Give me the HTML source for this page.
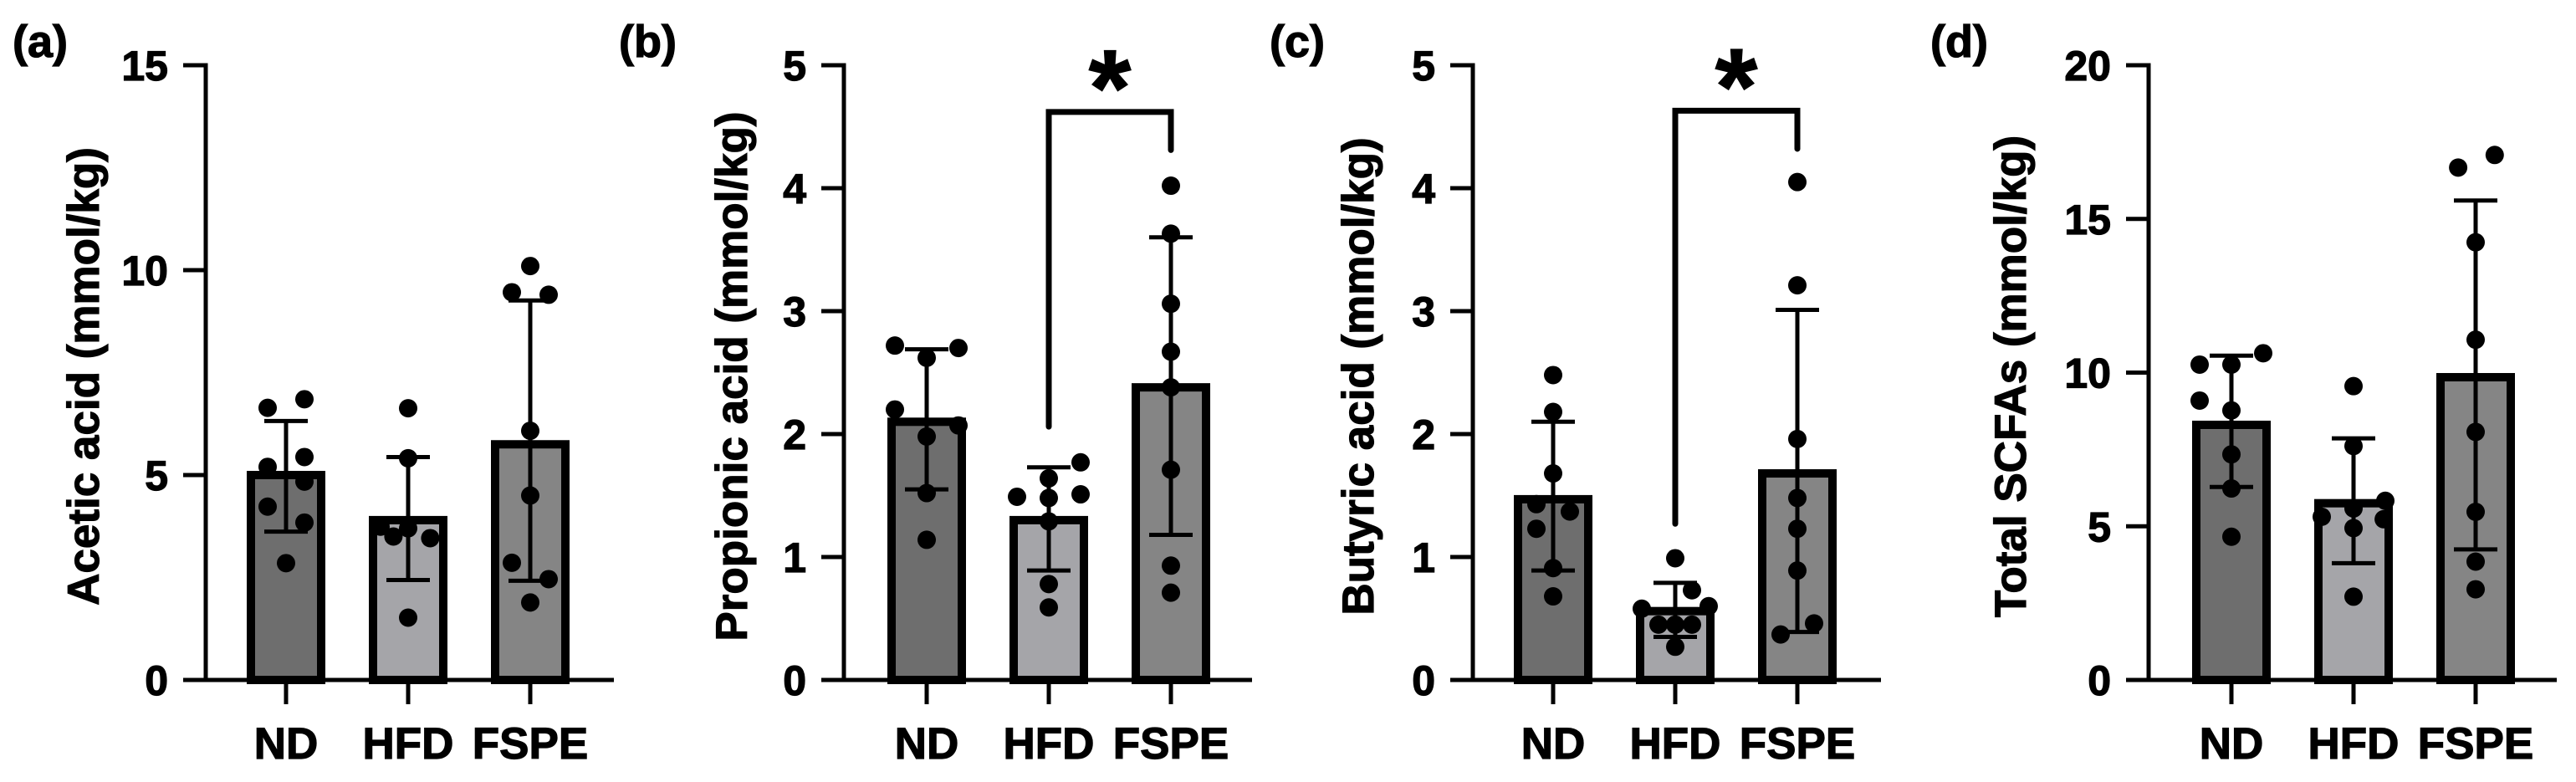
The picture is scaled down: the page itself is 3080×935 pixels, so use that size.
<!DOCTYPE html>
<html><head><meta charset="utf-8"><style>
html,body{margin:0;padding:0;background:#fff;}
svg{display:block;font-family:"Liberation Sans",Arial,sans-serif;font-weight:bold;}
svg text{stroke:#000;stroke-width:1.2px;}
</style></head><body>
<svg id="fig" width="3080" height="935" viewBox="0 0 3080 935" xmlns="http://www.w3.org/2000/svg"></svg>
<script>
const categories = ["ND","HFD","FSPE"];
// Panel (a) Acetic acid
const aMeans = [5.0, 3.9, 5.75];
const aHi = [6.32, 5.44, 9.26];
const aLo = [3.62, 2.44, 2.42];
const aND = [6.64, 6.85, 5.2, 5.44, 4.84, 4.23, 3.84, 2.85];
const aHFD = [6.63, 5.41, 3.74, 3.7, 3.5, 3.46, 1.52];
const aFSPE = [10.1, 9.46, 9.4, 6.08, 4.5, 2.86, 2.46, 1.89];
const aTicks = [0, 5, 10, 15];
// Panel (b) Propionic acid
const bMeans = [2.1, 1.3, 2.38];
const bHi = [2.69, 1.73, 3.6];
const bLo = [1.55, 0.89, 1.18];
const bND = [2.72, 2.70, 2.62, 2.2, 2.07, 1.98, 1.52, 1.14];
const bHFD = [1.77, 1.64, 1.49, 1.48, 1.51, 1.29, 0.78, 0.59];
const bFSPE = [4.02, 3.63, 3.06, 2.67, 2.38, 1.71, 0.93, 0.71];
const bTicks = [0, 1, 2, 3, 4, 5];
const bBracket = [4.62, 2.06, 4.31];
// Panel (c) Butyric acid
const cMeans = [1.47, 0.56, 1.68];
const cHi = [2.1, 0.79, 3.01];
const cLo = [0.89, 0.35, 0.39];
const cND = [2.48, 2.18, 1.68, 1.43, 1.37, 1.23, 0.91, 0.68];
const cHFD = [0.99, 0.73, 0.58, 0.6, 0.45, 0.45, 0.45, 0.27];
const cFSPE = [4.05, 3.21, 1.96, 1.48, 1.23, 0.89, 0.37, 0.46];
const cTicks = [0, 1, 2, 3, 4, 5];
const cBracket = [4.63, 1.27, 4.32];
// Panel (d) Total SCFAs
const dMeans = [8.3, 5.75, 9.85];
const dHi = [10.55, 7.86, 15.6];
const dLo = [6.28, 3.8, 4.25];
const dND = [10.26, 10.63, 10.26, 9.09, 8.77, 7.34, 6.23, 4.66];
const dHFD = [9.56, 7.61, 5.83, 5.58, 5.31, 5.23, 4.94, 2.71];
const dFSPE = [16.67, 17.08, 14.24, 11.07, 8.07, 5.47, 3.85, 2.95];
const dTicks = [0, 5, 10, 15, 20];

const NS = "http://www.w3.org/2000/svg";
const svg = document.getElementById("fig");
const Y0 = 813, YT = 78;
const fills = ["#6e6e6e", "#a5a5a9", "#858585"];

function mk(tag, attrs, parent) {
  const e = document.createElementNS(NS, tag);
  for (const k in attrs) e.setAttribute(k, attrs[k]);
  (parent || svg).appendChild(e);
  return e;
}

const panels = [
  {key:"a", letter:"(a)", lx:15, axis:246, t0:342, title:"Acetic acid (mmol/kg)", tx:118, max:15, ticks:aTicks,
   means:aMeans, hi:aHi, lo:aLo, dots:[aND,aHFD,aFSPE],
   sides:[[-1,1,-1,1,1,-1,1,0],[0,0,-1.5,0,-0.8,1.2,0],[0,-1,1,0,0,-1,1,0]], jit:22, bracket:null},
  {key:"b", letter:"(b)", lx:740, axis:1009, t0:1108, title:"Propionic acid (mmol/kg)", tx:893, max:5, ticks:bTicks,
   means:bMeans, hi:bHi, lo:bLo, dots:[bND,bHFD,bFSPE],
   sides:[[-1,1,0,-1,1,0,0,0],[1,0,-1,0,1,0,0,0],[0,0,0,0,0,0,0,0]], jit:38, bracket:bBracket},
  {key:"c", letter:"(c)", lx:1518, axis:1761, t0:1857, title:"Butyric acid (mmol/kg)", tx:1642, max:5, ticks:cTicks,
   means:cMeans, hi:cHi, lo:cLo, dots:[cND,cHFD,cFSPE],
   sides:[[0,0,0,-1,1,-1,0,0],[0,1,-2,2,-1,0,1,0],[0,0,0,0,0,0,-1,1]], jit:20, bracket:cBracket},
  {key:"d", letter:"(d)", lx:2308, axis:2569, t0:2668, title:"Total SCFAs (mmol/kg)", tx:2422, max:20, ticks:dTicks,
   means:dMeans, hi:dHi, lo:dLo, dots:[dND,dHFD,dFSPE],
   sides:[[-1,1,0,-1,0,0,0,0],[0,0,1,0,-1,0.95,0,0],[-0.55,0.6,0,0,0,0,0,0]], jit:38, bracket:null}
];

panels.forEach(p => {
  const g = mk("g", {});
  
  
  const y = v => Y0 - (v / p.max) * (Y0 - YT);
  const x = i => p.t0 + i * 146;

  const lab = mk("text", {x:p.lx, y:68, "font-size":54}, g);
  lab.textContent = p.letter;
  
  

  const tt = mk("text", {x:0, y:0, "font-size":53, "text-anchor":"middle",
    transform:`translate(${p.tx},450) rotate(-90)`}, g);
  tt.textContent = p.title;
  
  

  p.means.forEach((m, i) => {
    const r = mk("rect", {x:x(i) - 42, y:y(m), width:84, height:Y0 - y(m), fill:fills[i], stroke:"#000", "stroke-width":10}, g);
    
    
  });
  p.dots.forEach((arr, i) => {
    arr.forEach((v, j) => {
      const c = mk("circle", {cx:x(i) + p.sides[i][j] * p.jit, cy:y(v), r:11, fill:"#000"}, g);
      
      
    });
  });
  p.means.forEach((m, i) => {
    const e = mk("path", {d:`M${x(i)} ${y(p.lo[i])}V${y(p.hi[i])}M${x(i)-26} ${y(p.hi[i])}H${x(i)+26}M${x(i)-26} ${y(p.lo[i])}H${x(i)+26}`,
      stroke:"#000", "stroke-width":5, fill:"none"}, g);
    
    
  });
  const ax = mk("path", {d:`M${p.axis} ${YT - 2.5}V${Y0}M${p.axis - 27} ${Y0}H${p.axis + 488}`, stroke:"#000", "stroke-width":5, fill:"none"}, g);
  
  
  p.ticks.forEach(t => {
    const tk = mk("line", {x1:p.axis - 27, x2:p.axis, y1:y(t), y2:y(t), stroke:"#000", "stroke-width":5}, g);
    
    
    const tl = mk("text", {x:p.axis - 45, y:y(t) + 18, "font-size":50, "text-anchor":"end"}, g);
    tl.textContent = t;
    
    
  });
  categories.forEach((c, i) => {
    const tk = mk("line", {x1:x(i), x2:x(i), y1:Y0, y2:842, stroke:"#000", "stroke-width":5}, g);
    
    
    const tl = mk("text", {x:x(i), y:907, "font-size":53, "text-anchor":"middle"}, g);
    tl.textContent = c;
    
    
  });
  if (p.bracket) {
    const b = p.bracket;
    const br = mk("path", {d:`M${x(1)} ${y(b[1])}V${y(b[0])}H${x(2)}V${y(b[2])}`, stroke:"#000", "stroke-width":7, fill:"none", "stroke-linecap":"round"}, g);
    
    
    const st = mk("text", {x:(x(1) + x(2)) / 2, y:y(b[0]) + 16, "font-size":130, "text-anchor":"middle"}, g);
    st.textContent = "*";
    
    
  }
});
</script>
</body></html>
